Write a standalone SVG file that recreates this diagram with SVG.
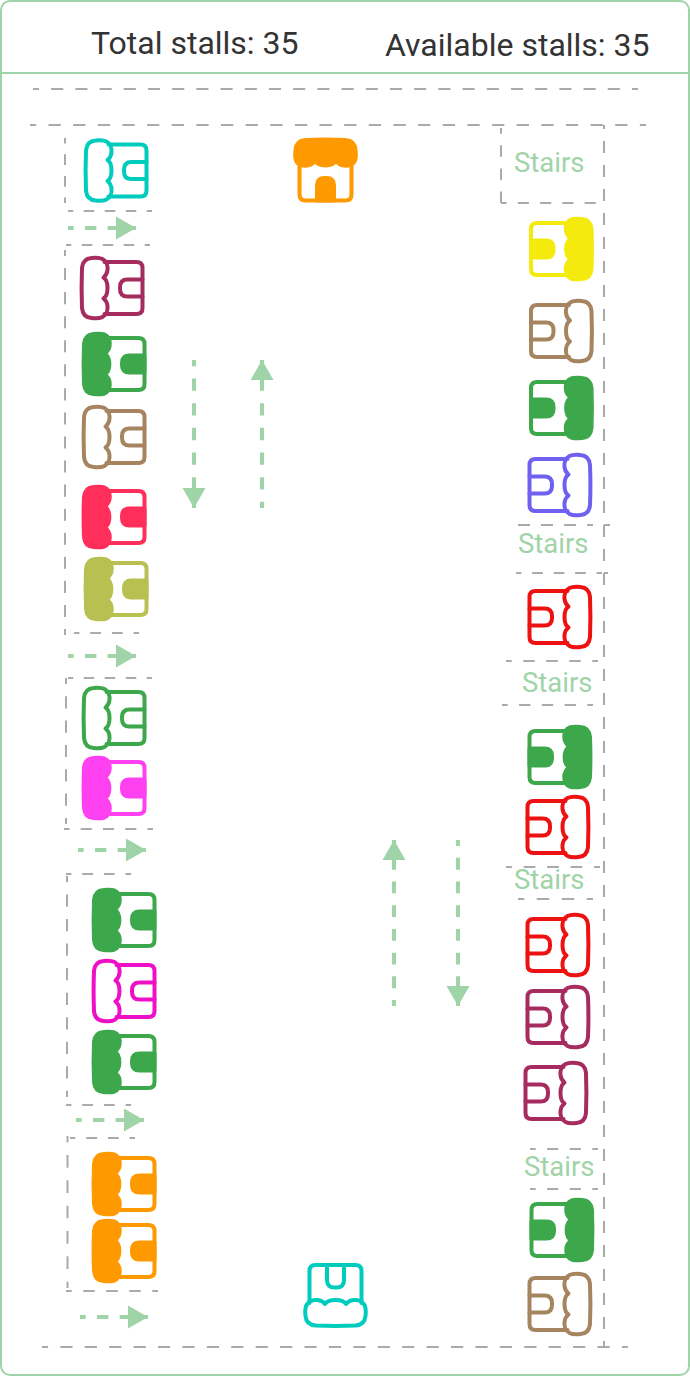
<svg xmlns="http://www.w3.org/2000/svg" width="690" height="1376" viewBox="0 0 690 1376">
<style>
.frame{fill:#fff;stroke:#9fd4a8;stroke-width:2}
.w{fill:none;stroke:#aaaaaa;stroke-width:2;stroke-dasharray:.5 .5;stroke-dashoffset:.25}
.wall{fill:none;stroke:#aaaaaa;stroke-width:2}
.a{fill:none;stroke:#9fd4a8;stroke-width:4;stroke-dasharray:.5 .5;stroke-dashoffset:.25}
.h{fill:#9fd4a8;stroke:none}
.t{font-family:Roboto,"Liberation Sans",sans-serif;font-size:32px;fill:#333333}
.s{font-family:Roboto,"Liberation Sans",sans-serif;font-size:27.5px;fill:#a0d4a8}
.ic{fill:none;stroke:currentColor;stroke-width:4;stroke-linejoin:round;stroke-linecap:round}
.fl{fill:currentColor}
</style>
<defs>
<g id="shop-o" class="ic">
<path d="M-20,-30.500C-8,-31 8,-31 20,-30.500C26,-30 29.500,-27 30,-21C30.500,-17 30.500,-13 29,-10C27,-6 22,-4.600 18,-5C14.500,-5.400 12,-7 10.500,-9C9,-6.500 4.500,-5 0,-5C-4.500,-5 -9,-6.500 -10.500,-9C-12,-7 -14.500,-5.400 -18,-5C-22,-4.600 -27,-6 -29,-10C-30.500,-13 -30.500,-17 -30,-21C-29.500,-27 -26,-30 -20,-30.500Z"/>
<path d="M-26,-8V24Q-26,30 -20,30H20Q26,30 26,24V-8"/>
<path d="M-8.500,30V15Q-8.500,7.500 -1,7.500H1Q8.500,7.500 8.500,15V30"/>
</g>
<g id="shop-f" class="ic">
<path class="fl" d="M-20,-30.500C-8,-31 8,-31 20,-30.500C26,-30 29.500,-27 30,-21C30.500,-17 30.500,-13 29.500,-10C27,-3.500 15,-2.500 10.500,-10C7,-3.500 -7,-3.500 -10.500,-10C-15,-2.500 -27,-3.500 -29.500,-10C-30.500,-13 -30.500,-17 -30,-21C-29.500,-27 -26,-30 -20,-30.500Z"/>
<path d="M-26,-8V24Q-26,30 -20,30H20Q26,30 26,24V-8"/>
<path class="fl" d="M-8.500,30V15Q-8.500,7.500 -1,7.500H1Q8.500,7.500 8.500,15V30Z"/>
</g>
</defs>
<rect class="frame" x="1" y="1" width="688" height="1374" rx="9"/>
<line class="frame" x1="1" y1="73" x2="689" y2="73"/>
<g id="header">
<text class="t" x="91" y="54">Total stalls: 35</text>
<text class="t" x="385" y="56">Available stalls: 35</text>
</g>
<g id="walls">
<line class="w" pathLength="25" x1="33" y1="89" x2="638" y2="89"/>
<line class="w" pathLength="25" x1="30" y1="125" x2="646" y2="125"/>
<line class="w" pathLength="24" x1="42" y1="1347" x2="628" y2="1347"/>
<line class="w" pathLength="3" x1="65" y1="138" x2="65" y2="203"/>
<line class="w" pathLength="4" x1="68" y1="211" x2="152" y2="211"/>
<line class="w" pathLength="4" x1="66" y1="245" x2="150" y2="245"/>
<line class="w" pathLength="16" x1="65" y1="250" x2="65" y2="635"/>
<line class="w" pathLength="3" x1="74" y1="633" x2="139" y2="633"/>
<line class="w" pathLength="4" x1="68" y1="678" x2="152" y2="678"/>
<line class="w" pathLength="6" x1="66" y1="678" x2="66" y2="824"/>
<line class="w" pathLength="4" x1="64" y1="829" x2="153" y2="829"/>
<line class="w" pathLength="3" x1="66" y1="874" x2="131" y2="874"/>
<line class="w" pathLength="9" x1="67" y1="876" x2="67" y2="1097"/>
<line class="w" pathLength="3" x1="66" y1="1105" x2="131" y2="1105"/>
<line class="w" pathLength="3" x1="70" y1="1138" x2="135" y2="1138"/>
<line class="w" pathLength="6" x1="67.500" y1="1136" x2="67.500" y2="1288"/>
<line class="w" pathLength="4" x1="66" y1="1291" x2="158" y2="1291"/>
<line class="wall" stroke-dasharray="12 12" stroke-dashoffset="8" x1="604" y1="125" x2="604" y2="1347"/>
<line class="w" pathLength="3.25" x1="501" y1="128" x2="501" y2="203"/>
<line class="w" pathLength="4.35" x1="501" y1="203" x2="598" y2="203"/>
<line class="wall" stroke-dasharray="12 11" x1="518" y1="525" x2="593" y2="525"/>
<line class="wall" x1="604" y1="525" x2="610" y2="525"/>
<line class="wall" x1="604" y1="573" x2="608" y2="573"/>
<line class="w" pathLength="4" x1="516" y1="573" x2="602" y2="573"/>
<line class="w" pathLength="4" x1="506" y1="661" x2="598" y2="661"/>
<line class="w" pathLength="4" x1="502" y1="705" x2="593" y2="705"/>
<line class="w" pathLength="4" x1="506" y1="867" x2="600" y2="867"/>
<line class="w" pathLength="3" x1="518" y1="899" x2="593" y2="899"/>
<line class="w" pathLength="3" x1="530" y1="1149" x2="598" y2="1149"/>
<line class="w" pathLength="3" x1="530" y1="1189" x2="598" y2="1189"/>
</g>
<g id="stairs">
<text class="s" x="514" y="172">Stairs</text>
<text class="s" x="518" y="553">Stairs</text>
<text class="s" x="522" y="692">Stairs</text>
<text class="s" x="514" y="889">Stairs</text>
<text class="s" x="524" y="1176">Stairs</text>
</g>
<g id="connectors">
<line class="a" pathLength="3" x1="68" y1="228" x2="136" y2="228"/><polygon class="h" points="116,216.500 136,228 116,239.500"/>
<line class="a" pathLength="3" x1="68" y1="656" x2="136" y2="656"/><polygon class="h" points="116,644.500 136,656 116,667.500"/>
<line class="a" pathLength="3" x1="78" y1="850" x2="146" y2="850"/><polygon class="h" points="126,838.500 146,850 126,861.500"/>
<line class="a" pathLength="3" x1="76" y1="1120" x2="144" y2="1120"/><polygon class="h" points="124,1108.500 144,1120 124,1131.500"/>
<line class="a" pathLength="3" x1="80" y1="1317" x2="148" y2="1317"/><polygon class="h" points="128,1305.500 148,1317 128,1328.500"/>
<line class="a" pathLength="6" x1="194" y1="360" x2="194" y2="508"/><polygon class="h" points="182.500,488 205.500,488 194,508"/>
<line class="a" pathLength="6" x1="262" y1="508" x2="262" y2="360"/><polygon class="h" points="250.500,380 273.500,380 262,360"/>
<line class="a" pathLength="7" x1="394" y1="1006" x2="394" y2="840"/><polygon class="h" points="382.500,860 405.500,860 394,840"/>
<line class="a" pathLength="7" x1="458" y1="840" x2="458" y2="1006"/><polygon class="h" points="446.500,986 469.500,986 458,1006"/>
</g>
<g id="entrance" style="color:#ff9900"><use href="#shop-f" transform="translate(325.500 170.500)"/></g>
<g id="exit" style="color:#00ccbe"><use href="#shop-o" transform="translate(335.500 1295) rotate(180)"/></g>
<g id="stall-l1" style="color:#00ccbe"><use href="#shop-o" transform="translate(116.500 170.500) rotate(-90)"/></g>
<g id="stall-l2" style="color:#a62b5e"><use href="#shop-o" transform="translate(112.500 288) rotate(-90)"/></g>
<g id="stall-l3" style="color:#3ca84b"><use href="#shop-f" transform="translate(114.500 364) rotate(-90)"/></g>
<g id="stall-l4" style="color:#a5845f"><use href="#shop-o" transform="translate(114.500 437) rotate(-90)"/></g>
<g id="stall-l5" style="color:#ff2e5b"><use href="#shop-f" transform="translate(114.500 517) rotate(-90)"/></g>
<g id="stall-l6" style="color:#b8c052"><use href="#shop-f" transform="translate(116.500 589) rotate(-90)"/></g>
<g id="stall-l7" style="color:#3ca84b"><use href="#shop-o" transform="translate(114.500 718) rotate(-90)"/></g>
<g id="stall-l8" style="color:#ff40f0"><use href="#shop-f" transform="translate(114.500 788) rotate(-90)"/></g>
<g id="stall-l9" style="color:#3ca84b"><use href="#shop-f" transform="translate(124.500 920) rotate(-90)"/></g>
<g id="stall-l10" style="color:#ee10c8"><use href="#shop-o" transform="translate(124.500 991) rotate(-90)"/></g>
<g id="stall-l11" style="color:#3ca84b"><use href="#shop-f" transform="translate(124.500 1062) rotate(-90)"/></g>
<g id="stall-l12" style="color:#ff9900"><use href="#shop-f" transform="translate(124.500 1184) rotate(-90)"/></g>
<g id="stall-l13" style="color:#ff9900"><use href="#shop-f" transform="translate(124.500 1251) rotate(-90)"/></g>
<g id="stall-r1" style="color:#f5ea0e"><use href="#shop-f" transform="translate(561 249) rotate(90)"/></g>
<g id="stall-r2" style="color:#a5845f"><use href="#shop-o" transform="translate(561 331) rotate(90)"/></g>
<g id="stall-r3" style="color:#3ca84b"><use href="#shop-f" transform="translate(561 408) rotate(90)"/></g>
<g id="stall-r4" style="color:#7060f0"><use href="#shop-o" transform="translate(559.500 485) rotate(90)"/></g>
<g id="stall-r5" style="color:#ee1111"><use href="#shop-o" transform="translate(559.500 617) rotate(90)"/></g>
<g id="stall-r6" style="color:#3ca84b"><use href="#shop-f" transform="translate(559.500 757) rotate(90)"/></g>
<g id="stall-r7" style="color:#ee1111"><use href="#shop-o" transform="translate(557.500 827) rotate(90)"/></g>
<g id="stall-r8" style="color:#ee1111"><use href="#shop-o" transform="translate(557.500 945) rotate(90)"/></g>
<g id="stall-r9" style="color:#a62b5e"><use href="#shop-o" transform="translate(557.500 1017) rotate(90)"/></g>
<g id="stall-r10" style="color:#a62b5e"><use href="#shop-o" transform="translate(555.500 1093) rotate(90)"/></g>
<g id="stall-r11" style="color:#3ca84b"><use href="#shop-f" transform="translate(561.500 1230) rotate(90)"/></g>
<g id="stall-r12" style="color:#a5845f"><use href="#shop-o" transform="translate(559.500 1304) rotate(90)"/></g>
</svg>
